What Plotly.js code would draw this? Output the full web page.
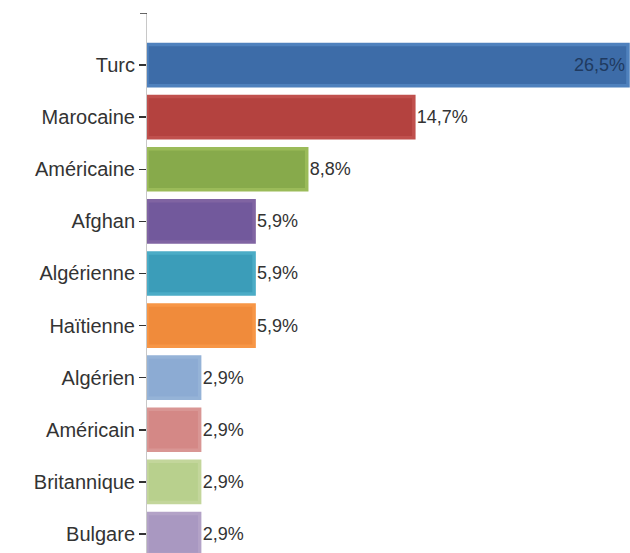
<!DOCTYPE html>
<html>
<head>
<meta charset="utf-8">
<script src="https://cdn.plot.ly/plotly-3.0.1.min.js"></script>
<style>html,body{margin:0;padding:0;background:#fff;}#chart{width:630px;height:553px;}</style>
</head>
<body>
<div id="chart"></div>
<script>
const categories = ['Turc','Marocaine','Américaine','Afghan','Algérienne','Haïtienne','Algérien','Américain','Britannique','Bulgare'];
const values = [26.5, 14.7, 8.8, 5.9, 5.9, 5.9, 2.9, 2.9, 2.9, 2.9];
const valueLabels = ['26,5%','14,7%','8,8%','5,9%','5,9%','5,9%','2,9%','2,9%','2,9%','2,9%'];
const fillColors = ['#3d6ca8','#b4423f','#87aa4b','#72599c','#3b9db9','#f08b3b','#8cabd3','#d48886','#b8d08d','#a998c1'];
const borderColors = ['#4f81bd','#c0504d','#9bbb59','#8064a2','#4bacc6','#f79646','#95b3d7','#d99694','#c3d69b','#b3a2c7'];
const textPositions = ['inside','outside','outside','outside','outside','outside','outside','outside','outside','outside'];
const textColors = ['#1f3a60','#333333','#333333','#333333','#333333','#333333','#333333','#333333','#333333','#333333'];

const trace = {
  type: 'bar',
  orientation: 'h',
  y: categories,
  x: values,
  text: valueLabels,
  textposition: textPositions,
  insidetextanchor: 'end',
  constraintext: 'none',
  cliponaxis: false,
  textfont: {family: 'Liberation Sans, Arial, sans-serif', size: 18, color: textColors},
  width: 0.79,
  marker: {color: fillColors, line: {color: borderColors, width: 3.5}},
  hoverinfo: 'none'
};

const layout = {
  width: 630,
  height: 553,
  margin: {l: 147, r: 0, t: 13, b: 0, pad: 0},
  paper_bgcolor: '#ffffff',
  plot_bgcolor: '#ffffff',
  showlegend: false,
  xaxis: {visible: false, range: [0, 26.61], fixedrange: true},
  yaxis: {
    type: 'category',
    range: [9.365, -1.0],
    showline: true,
    linecolor: '#c8c8c8',
    linewidth: 1,
    ticks: 'outside',
    ticklen: 7,
    tickcolor: '#333333',
    tickwidth: 1.5,
    showgrid: false,
    zeroline: false,
    automargin: false,
    tickfont: {family: 'Liberation Sans, Arial, sans-serif', size: 20, color: '#333333'}
  },
  shapes: [{
    type: 'line', xref: 'paper', yref: 'y',
    x0: -7/483, x1: 0, y0: -1, y1: -1,
    line: {color: '#333333', width: 1.5}
  }]
};

Plotly.newPlot('chart', [trace], layout, {displayModeBar: false, staticPlot: true});
</script>
</body>
</html>
